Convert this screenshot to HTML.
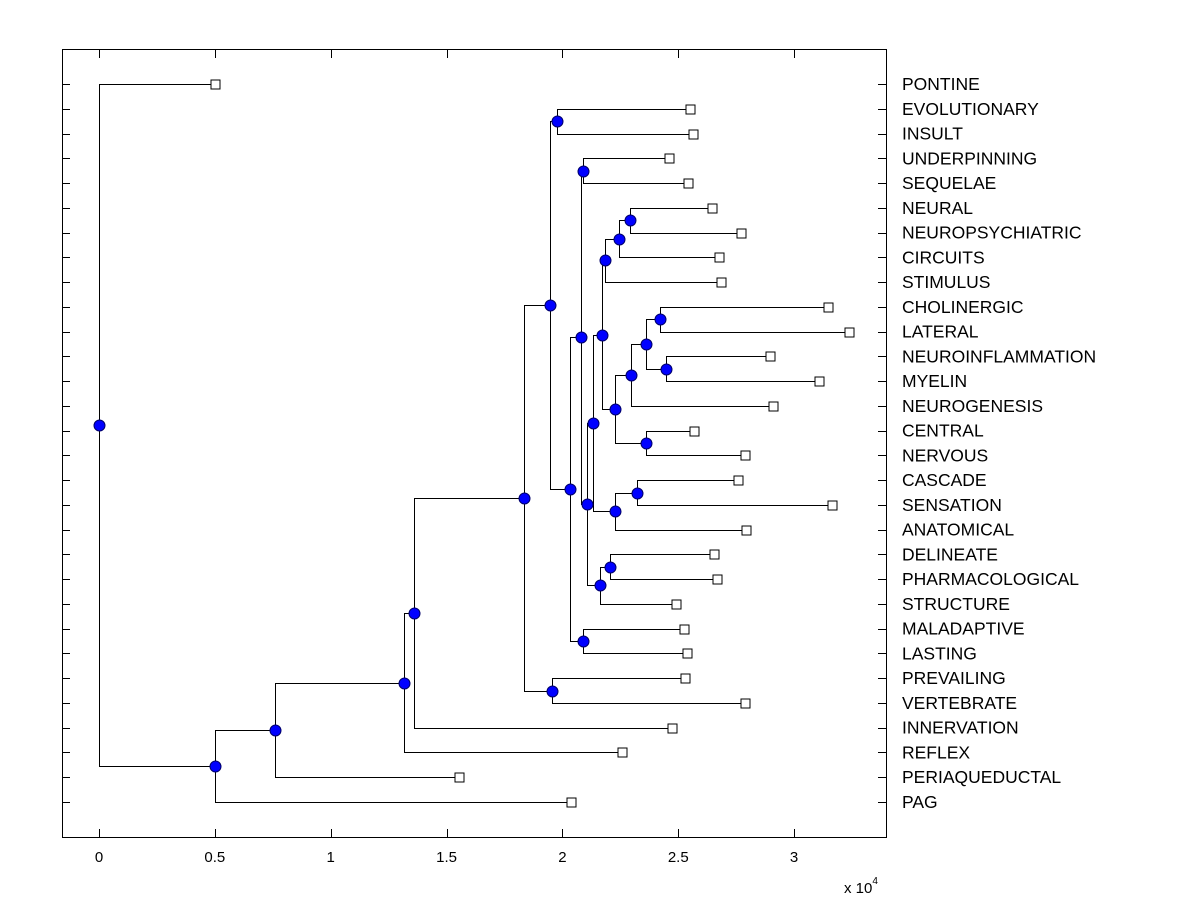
<!DOCTYPE html>
<html><head><meta charset="utf-8"><style>
body{margin:0;background:#fff;}
svg{display:block;font-family:"Liberation Sans",Arial,sans-serif;}
</style></head><body>
<svg id="chart" width="1200" height="900" viewBox="0 0 1200 900" xmlns="http://www.w3.org/2000/svg">
<rect x="0" y="0" width="1200" height="900" fill="#fff"/>
<g id="ticks"></g>
<g id="links"></g>
<g id="marks"></g>
<rect x="62.5" y="49.5" width="824" height="788" fill="none" stroke="#000" stroke-width="1"/>
<g id="labels"></g>
<g id="xlabels"></g>
<text x="844" y="893" font-size="15">x 10<tspan dy="-9" font-size="10">4</tspan></text>
</svg>
<script>
const leafNames = ["PONTINE","EVOLUTIONARY","INSULT","UNDERPINNING","SEQUELAE","NEURAL","NEUROPSYCHIATRIC","CIRCUITS","STIMULUS","CHOLINERGIC","LATERAL","NEUROINFLAMMATION","MYELIN","NEUROGENESIS","CENTRAL","NERVOUS","CASCADE","SENSATION","ANATOMICAL","DELINEATE","PHARMACOLOGICAL","STRUCTURE","MALADAPTIVE","LASTING","PREVAILING","VERTEBRATE","INNERVATION","REFLEX","PERIAQUEDUCTAL","PAG"];
const leafValues = [0.501,2.551,2.564,2.460,2.542,2.646,2.771,2.676,2.684,3.146,3.237,2.896,3.107,2.909,2.568,2.788,2.758,3.164,2.792,2.655,2.667,2.490,2.525,2.538,2.529,2.788,2.473,2.257,1.554,2.037];
const nodeLeft  = [1,3,5,32,33,9,11,35,37,14,38,34,16,42,41,19,45,44,31,22,48,30,24,51,53,54,55,56,0];
const nodeRight = [2,4,6,7,8,10,12,36,13,15,39,40,17,18,43,20,21,46,47,23,49,50,25,52,26,27,28,29,57];
const nodeValues = [1.977,2.089,2.292,2.244,2.184,2.421,2.447,2.361,2.296,2.361,2.227,2.171,2.322,2.227,2.132,2.205,2.162,2.106,2.080,2.089,2.033,1.946,1.955,1.834,1.360,1.316,0.760,0.501,0];
const xTicks = [0,0.5,1,1.5,2,2.5,3];
const xTickLabels = ["0","0.5","1","1.5","2","2.5","3"];

const NS="http://www.w3.org/2000/svg";
const xs = v => 99 + v*231.7;
const ys = i => 84 + i*(802-84)/29;
const sn = v => Math.round(v)+0.5;
function mk(tag, attrs, parent){const e=document.createElementNS(NS,tag);for(const k in attrs)e.setAttribute(k,attrs[k]);parent.appendChild(e);return e;}
const gT=document.getElementById('ticks'),gL=document.getElementById('links'),gM=document.getElementById('marks'),gLab=document.getElementById('labels'),gX=document.getElementById('xlabels');
const N=leafNames.length;
const px=[],py=[];
leafNames.forEach((n,i)=>{px[i]=xs(leafValues[i]);py[i]=ys(i);});
nodeValues.forEach((v,j)=>{const id=N+j;px[id]=xs(v);py[id]=(py[nodeLeft[j]]+py[nodeRight[j]])/2;});
leafNames.forEach((n,i)=>{
  const y=sn(ys(i));
  const t1=mk('line',{x1:62,y1:y,x2:70,y2:y,stroke:'#000'},gT);
  
  
  const t2=mk('line',{x1:878,y1:y,x2:886,y2:y,stroke:'#000'},gT);
  
  
  const tx=mk('text',{x:902,y:ys(i)+6,'font-size':17.5},gLab);
  tx.textContent=n;
  
  
});
xTicks.forEach((v,i)=>{
  const x=sn(xs(v));
  const a=mk('line',{x1:x,y1:837,x2:x,y2:829,stroke:'#000'},gT);
  
  
  const b=mk('line',{x1:x,y1:50,x2:x,y2:58,stroke:'#000'},gT);
  
  
  const t=mk('text',{x:xs(v),y:862,'font-size':15,'text-anchor':'middle'},gX);
  t.textContent=xTickLabels[i];
  
  
});
nodeValues.forEach((v,j)=>{
  const id=N+j,x=sn(px[id]);
  [nodeLeft[j],nodeRight[j]].forEach(c=>{
    const p=mk('path',{d:`M${x},${sn(py[id])} V${sn(py[c])} H${sn(px[c])}`,fill:'none',stroke:'#000','stroke-width':1},gL);
    
    
  });
});
leafNames.forEach((n,i)=>{
  const r=mk('rect',{x:sn(px[i])-4.5,y:sn(py[i])-4.5,width:9,height:9,fill:'#fff',stroke:'#000'},gM);
  
  
});
nodeValues.forEach((v,j)=>{
  const id=N+j;
  const c=mk('circle',{cx:sn(px[id]),cy:sn(py[id]),r:5.5,fill:'#0000ff',stroke:'#00006a','stroke-width':1},gM);
  
  
});
</script>
</body></html>
